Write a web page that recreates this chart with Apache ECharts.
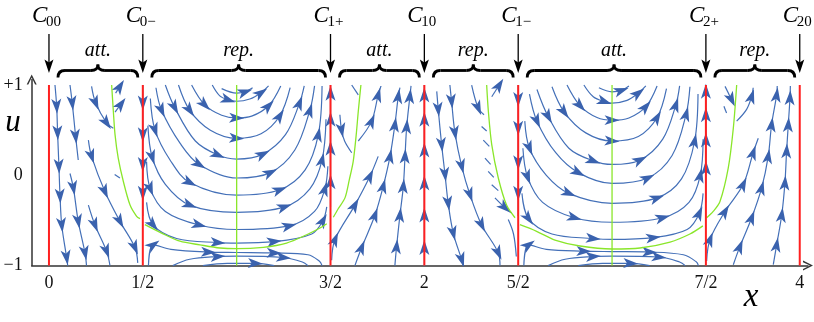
<!DOCTYPE html>
<html>
<head>
<meta charset="utf-8">
<script src="https://cdn.jsdelivr.net/npm/echarts@6/dist/echarts.min.js"></script>
<style>
html, body { margin: 0; padding: 0; background: #fff; }
#main { width: 814px; height: 322px; }
</style>
</head>
<body>
<div id="main"></div>
<script>
// axes
const xRange = [-0.092, 4.044];
const uRange = [-1, 1.06];
const xTicks = [0, 0.5, 1.5, 2, 2.5, 3.5, 4];
const xTickLabels = ['0', '1/2', '3/2', '2', '5/2', '7/2', '4'];
const uTicks = [-1, 0, 1];
const uTickLabels = ['\u22121', '0', '+1'];

// red lines C.. and the labels above them
const critX = [0, 0.5, 1.5, 2, 2.5, 3.5, 4];
const critSub = ['00', '0\u2212', '1+', '10', '1\u2212', '2+', '20'];
const bandText = ['att.', 'rep.', 'att.', 'rep.', 'att.', 'rep.'];

// streamlines as [x, u] in flow order, third value 1 = arrowhead there
// 0 .. 1/2
const flowAtt0 = [
	[[0.032,1.0],[0.041,0.765,1],[0.046,0.47,1],[0.053,0.1,1],[0.059,-0.23,1],[0.068,-0.55,1],[0.094,-0.91,1],[0.1,-1.0]],
	[[0.112,1.0],[0.124,0.8,1],[0.142,0.43,1],[0.156,0.17]],
	[[0.112,0.02],[0.13,-0.14,1],[0.156,-0.51,1],[0.192,-0.86,1],[0.2,-1.0]],
	[[0.21,0.39],[0.227,0.21,1],[0.298,-0.18,1],[0.378,-0.51,1],[0.458,-0.8,1],[0.473,-0.97]],
	[[0.227,0.985],[0.249,0.8,1],[0.307,0.58,1],[0.343,0.52]],
	[[0.21,-0.33],[0.245,-0.55,1],[0.307,-0.84,1],[0.325,-1.0]],
	[[0.355,0.91],[0.378,0.985,1]],
	[[0.352,0.7],[0.384,0.79,1]],
	[[0.35,0.01],[0.378,-0.03]]
];
// 1/2 .. 3/2
const flowRep0 = [
	[[0.92,0.96],[1.0,0.91],[1.045,0.925,1],[1.085,0.97]],
	[[0.87,1.0],[0.91,0.88],[0.955,0.835,1],[1.0,0.82],[1.07,0.845],[1.13,0.915,1],[1.17,0.99]],
	[[0.76,1.0],[0.83,0.78,1],[0.92,0.665],[1.0,0.635,1],[1.08,0.655],[1.17,0.77,1],[1.235,0.99]],
	[[0.69,1.0],[0.75,0.72,1],[0.86,0.5],[1.0,0.41,1],[1.13,0.46],[1.23,0.66,1],[1.285,0.97]],
	[[0.62,1.0],[0.67,0.75,1],[0.78,0.38],[0.9,0.225,1],[1.0,0.18],[1.14,0.235,1],[1.26,0.45],[1.335,0.8,1],[1.36,0.99]],
	[[0.57,0.97],[0.6,0.72,1],[0.7,0.35],[0.8,0.12,1],[1.0,-0.03],[1.18,0.03,1],[1.31,0.28],[1.39,0.72,1],[1.415,0.99]],
	[[0.54,0.85],[0.565,0.5,1],[0.645,0.17],[0.75,-0.08,1],[1.0,-0.22],[1.23,-0.16,1],[1.365,0.06],[1.435,0.45,1],[1.455,0.99]],
	[[0.527,0.55],[0.55,0.2,1],[0.62,-0.1],[0.75,-0.33,1],[1.0,-0.41],[1.255,-0.35,1],[1.39,-0.15],[1.455,0.17,1],[1.476,0.62]],
	[[0.52,0.15],[0.54,-0.15,1],[0.62,-0.4],[0.8,-0.55,1],[1.0,-0.6],[1.28,-0.56,1],[1.415,-0.4],[1.47,-0.15,1],[1.486,0.1]],
	[[0.52,-0.3],[0.555,-0.55,1],[0.68,-0.7],[0.9,-0.745,1],[1.0,-0.75],[1.2,-0.735,1],[1.4,-0.65],[1.46,-0.5,1],[1.48,-0.35]],
	[[0.53,-1.0],[0.556,-0.77,1],[0.65,-0.82],[0.85,-0.85,1],[1.0,-0.855],[1.2,-0.86,1],[1.38,-0.88],[1.44,-0.95],[1.455,-1.0]],
	[[0.66,-1.0],[0.75,-0.93],[0.9,-0.9,1],[1.0,-0.895],[1.25,-0.91,1],[1.35,-0.96],[1.38,-1.0]],
	[[0.82,-1.0],[0.95,-0.975],[1.1,-0.975,1],[1.2,-1.0]]
];
// 3/2 .. 2
const flowAtt1 = [
	[[1.843,-1.0],[1.852,-0.79,1],[1.87,-0.44,1],[1.888,-0.12,1],[1.897,0.21,1],[1.906,0.54,1],[1.923,0.875,1],[1.929,0.99]],
	[[1.63,-1.0],[1.666,-0.8,1],[1.737,-0.44,1],[1.781,-0.12,1],[1.817,0.21,1],[1.843,0.56,1],[1.861,0.875,1],[1.87,0.97]],
	[[1.506,-0.94],[1.524,-0.71,1],[1.63,-0.33,1],[1.71,-0.01,1],[1.754,0.21]],
	[[1.648,0.38],[1.719,0.6,1],[1.754,0.89,1],[1.769,0.99]],
	[[1.55,0.67],[1.559,0.5,1],[1.575,0.38],[1.613,0.25]],
	[[1.613,1.0],[1.648,0.89]]
];
// 2 .. 5/2
const flowRep1 = [
	[[2.066,0.93],[2.074,0.73,1],[2.092,0.34,1],[2.11,0.01,1],[2.127,-0.31,1],[2.154,-0.64,1],[2.199,-0.935,1],[2.207,-1.0]],
	[[2.136,1.0],[2.145,0.82,1],[2.163,0.47,1],[2.199,0.1,1],[2.243,-0.215,1],[2.305,-0.55,1],[2.394,-0.86,1],[2.403,-1.0]],
	[[2.252,1.0],[2.287,0.745,1],[2.318,0.67]],
	[[2.359,0.87],[2.399,1.0,1]],
	[[2.305,0.54],[2.332,0.49]],
	[[2.314,0.39],[2.346,0.32]],
	[[2.323,0.19],[2.353,0.12]],
	[[2.34,0.044],[2.37,-0.022]],
	[[2.359,-0.104],[2.394,-0.17]],
	[[2.376,-0.25],[2.43,-0.36,1],[2.465,-0.417]],
	[[2.447,-0.49],[2.475,-0.65],[2.49,-0.9]]
];
// 5/2 .. 7/2
const flowAtt2 = [
	[[2.93,0.97],[3.0,0.925],[3.05,0.94,1],[3.09,0.99]],
	[[2.85,1.0],[2.9,0.87],[2.96,0.815,1],[3.0,0.8],[3.08,0.83],[3.14,0.91,1],[3.18,0.99]],
	[[2.76,1.0],[2.83,0.77,1],[2.92,0.64],[3.0,0.61,1],[3.09,0.635],[3.18,0.76,1],[3.24,0.99]],
	[[2.68,0.98],[2.745,0.7,1],[2.86,0.47],[3.0,0.38,1],[3.14,0.43],[3.24,0.64,1],[3.29,0.96]],
	[[2.6,0.95],[2.66,0.65,1],[2.77,0.3],[2.9,0.16,1],[3.0,0.12],[3.15,0.17,1],[3.27,0.4],[3.34,0.78,1],[3.36,0.99]],
	[[2.56,0.9],[2.6,0.6,1],[2.7,0.25],[2.82,0.03,1],[3.0,-0.09],[3.19,-0.03,1],[3.32,0.22],[3.395,0.68,1],[3.415,0.98]],
	[[2.535,0.6],[2.56,0.3,1],[2.65,0.0],[2.77,-0.2,1],[3.0,-0.31],[3.24,-0.25,1],[3.37,-0.04],[3.44,0.38,1],[3.458,0.9]],
	[[2.525,0.3],[2.55,-0.02,1],[2.63,-0.3],[2.8,-0.47,1],[3.0,-0.52],[3.27,-0.47,1],[3.41,-0.3],[3.47,0.0,1],[3.485,0.4]],
	[[2.52,-0.2],[2.555,-0.48,1],[2.68,-0.65],[2.9,-0.7,1],[3.0,-0.71],[3.22,-0.69,1],[3.4,-0.6],[3.465,-0.42,1],[3.485,-0.2]],
	[[2.53,-1.0],[2.556,-0.77,1],[2.65,-0.82],[2.85,-0.84,1],[3.0,-0.845],[3.2,-0.85,1],[3.38,-0.88],[3.45,-0.96],[3.46,-1.0]],
	[[2.66,-1.0],[2.75,-0.93],[2.9,-0.9,1],[3.0,-0.895],[3.25,-0.905,1],[3.36,-0.96],[3.39,-1.0]],
	[[2.82,-1.0],[2.95,-0.975],[3.1,-0.975,1],[3.2,-1.0]]
];
// 7/2 .. 4
const flowRep2 = [
	[[3.859,-0.99],[3.877,-0.77,1],[3.904,-0.44,1],[3.921,-0.085,1],[3.93,0.27,1],[3.939,0.56,1],[3.948,0.86,1],[3.95,0.99]],
	[[3.646,-0.99],[3.681,-0.79,1],[3.744,-0.47,1],[3.797,-0.14,1],[3.832,0.21,1],[3.85,0.56,1],[3.877,0.89,1],[3.88,0.99]],
	[[3.504,-0.95],[3.522,-0.71,1],[3.602,-0.4,1],[3.699,-0.1,1],[3.752,0.25,1],[3.779,0.41]],
	[[3.664,0.6],[3.717,0.73],[3.744,0.875,1],[3.752,0.97]],
	[[3.602,0.985],[3.637,0.837,1]],
	[[3.596,0.764],[3.61,0.69]]
];
// flow along the invariant lines
const flowOnLines = [
	[[0.5,1.0],[0.5,0.8,1],[0.5,0.45,1],[0.5,0.12,1],[0.5,-0.2,1],[0.5,-0.45]],
	[[1.5,-0.35],[1.5,-0.07,1],[1.5,0.3,1],[1.5,0.62,1],[1.5,0.91,1],[1.5,1.0]],
	[[2,-1.0],[2,-0.8,1],[2,-0.44,1],[2,-0.085,1],[2,0.28,1],[2,0.62,1],[2,0.89,1],[2,1.0]],
	[[2.5,1.0],[2.5,0.84,1],[2.5,0.52,1],[2.5,0.14,1],[2.5,-0.2,1],[2.5,-0.45]],
	[[3.5,-0.3],[3.5,0.08,1],[3.5,0.39,1],[3.5,0.67,1],[3.5,0.93,1],[3.5,1.0]]
];

// green nullclines
const nullclines = [
	[[0.334,1.0],[0.343,0.71],[0.352,0.45],[0.369,0.19],[0.396,-0.066],[0.432,-0.33],[0.467,-0.454],[0.485,-0.48]],
	[[0.511,-0.547],[0.6,-0.64],[0.698,-0.73],[0.804,-0.77],[0.911,-0.805],[1.0,-0.813],[1.142,-0.797],[1.266,-0.75],[1.373,-0.658],[1.444,-0.584],[1.48,-0.536]],
	[[1.515,-0.465],[1.541,-0.37],[1.577,-0.25],[1.6,-0.05],[1.621,0.155],[1.637,0.45],[1.648,0.71],[1.662,1.0]],
	[[1,-1],[1,1]],
	[[2.332,1.0],[2.341,0.71],[2.359,0.34],[2.394,-0.03],[2.438,-0.33],[2.483,-0.47]],
	[[2.509,-0.547],[2.598,-0.62],[2.696,-0.717],[2.829,-0.783],[3.0,-0.816],[3.149,-0.805],[3.309,-0.739],[3.415,-0.65],[3.484,-0.56]],
	[[3.504,-0.47],[3.539,-0.4],[3.575,-0.29],[3.619,0.08],[3.646,0.52],[3.664,1.0]],
	[[3,-1],[3,1]]
];

const BLUE = '#4470b8';
const ARROW = '#3a62ae';
const GREEN = '#8ae62a';
const RED = '#ff2020';
const SERIF = '"Liberation Serif", "DejaVu Serif", serif';
const chevron = 'path://M0,10 L5,0 L10,10 L8.4,10 L5,3 L1.6,10 Z';
const arrowHead = 'path://M5,0 L10,14 L5,10.5 L0,14 Z';

let myChart;

function textEl(x, y, text, font, align) {
	return { type: 'text', x: x, y: y, silent: true,
		style: { text: text, font: font, fill: '#000', align: align, verticalAlign: 'middle', textAlign: align, textVerticalAlign: 'middle' } };
}

// curly brace between two pixel x positions, built from lines and quadratic curves
function braceEls(x1, x2, y) {
	const m = (x1 + x2) / 2, st = { stroke: '#000', lineWidth: 2.8, fill: null };
	const q = (a, b, c, d, e, f) => ({ type: 'bezierCurve', silent: true, shape: { x1: a, y1: b, cpx1: c, cpy1: d, x2: e, y2: f }, style: st });
	const l = (a, b) => ({ type: 'line', silent: true, shape: { x1: a, y1: y, x2: b, y2: y }, style: st });
	return [
		q(x1, y + 7, x1, y, x1 + 7, y), l(x1 + 7, m - 7),
		q(m - 7, y, m, y, m, y - 6), q(m, y - 6, m, y, m + 7, y),
		l(m + 7, x2 - 7), q(x2 - 7, y, x2, y, x2, y + 7)
	];
}

function init() {
	myChart = echarts.init(document.getElementById('main'));
	const allFlows = [].concat(flowAtt0, flowRep0, flowAtt1, flowRep1, flowAtt2, flowRep2, flowOnLines);

	let series = [];
	allFlows.forEach(function (p) {
		series.push({
			type: 'line', data: p.map(q => [q[0], q[1]]), smooth: 0.35,
			showSymbol: false, symbol: 'none', silent: true, z: 2,
			lineStyle: { color: BLUE, width: 1.2 }
		});
	});
	nullclines.forEach(function (p) {
		series.push({
			type: 'line', data: p, smooth: 0.3, showSymbol: false, symbol: 'none', silent: true, z: 4,
			lineStyle: { color: GREEN, width: 1.3 }
		});
	});
	critX.forEach(function (x) {
		series.push({
			type: 'line', data: [[x, -1], [x, 1]], showSymbol: false, symbol: 'none', silent: true, z: 5,
			lineStyle: { color: RED, width: 2 }
		});
	});
	series.push({
		id: 'arrows', type: 'scatter', data: [], symbol: arrowHead, symbolSize: [10, 15],
		itemStyle: { color: ARROW, opacity: 1 }, silent: true, z: 3
	});

	const option = {
		animation: false,
		grid: { left: 31.7, right: 6, top: 79.6, bottom: 56.4 },
		xAxis: {
			type: 'value', min: xRange[0], max: xRange[1],
			axisLine: { show: true, onZero: false, symbol: ['none', chevron], symbolSize: [10, 10],
				lineStyle: { color: '#333', width: 1.5 } },
			axisTick: { show: false }, splitLine: { show: false },
			axisLabel: {
				customValues: xTicks, margin: 9,
				formatter: v => xTickLabels[xTicks.indexOf(v)],
				fontFamily: SERIF, fontSize: 18, color: '#111'
			}
		},
		yAxis: {
			type: 'value', min: uRange[0], max: uRange[1],
			axisLine: { show: true, onZero: false, symbol: ['none', chevron], symbolSize: [10, 10],
				lineStyle: { color: '#333', width: 1.5 } },
			axisTick: { show: false }, splitLine: { show: false },
			axisLabel: {
				customValues: uTicks, margin: 9,
				formatter: v => uTickLabels[uTicks.indexOf(v)],
				fontFamily: SERIF, fontSize: 18, color: '#111'
			}
		},
		series: series
	};
	myChart.setOption(option);

	// arrowheads point along the streamline
	const arrowData = [];
	allFlows.forEach(function (p) {
		p.forEach(function (q, i) {
			if (!q[2]) return;
			const a = p[Math.max(i - 1, 0)], b = p[Math.min(i + 1, p.length - 1)];
			const pa = myChart.convertToPixel({ gridIndex: 0 }, [a[0], a[1]]);
			const pb = myChart.convertToPixel({ gridIndex: 0 }, [b[0], b[1]]);
			const ang = Math.atan2(-(pb[1] - pa[1]), pb[0] - pa[0]) * 180 / Math.PI;
			arrowData.push({ value: [q[0], q[1]], symbolRotate: ang - 90 });
		});
	});
	myChart.setOption({ series: [{ id: 'arrows', data: arrowData }] });

	// labels, arrows and braces above the plot
	let graphic = [];
	const px = critX.map(x => myChart.convertToPixel({ xAxisIndex: 0 }, x));
	px.forEach(function (x, i) {
		graphic.push(textEl(x - 17, 16, 'C', 'italic 23px ' + SERIF, 'left'));
		graphic.push(textEl(x - 3, 22, critSub[i], '15px ' + SERIF, 'left'));
		graphic.push({ type: 'line', silent: true, shape: { x1: x, y1: 34, x2: x, y2: 66 }, style: { stroke: '#000', lineWidth: 1.3 } });
		graphic.push({ type: 'polygon', silent: true, shape: { points: [[x, 73], [x - 4.5, 59.5], [x, 62.5], [x + 4.5, 59.5]] }, style: { fill: '#000' } });
	});
	bandText.forEach(function (t, i) {
		const x1 = px[i] + 9, x2 = px[i + 1] - 5;
		graphic = graphic.concat(braceEls(x1, x2, 70.5));
		graphic.push(textEl((x1 + x2) / 2, 51, t, 'italic 20px ' + SERIF, 'center'));
	});
	graphic.push(textEl(13, 123, 'u', 'italic 31px ' + SERIF, 'center'));
	graphic.push(textEl(751, 297, 'x', 'italic 33px ' + SERIF, 'center'));

	myChart.setOption({ graphic: graphic });
}

init();
</script>
